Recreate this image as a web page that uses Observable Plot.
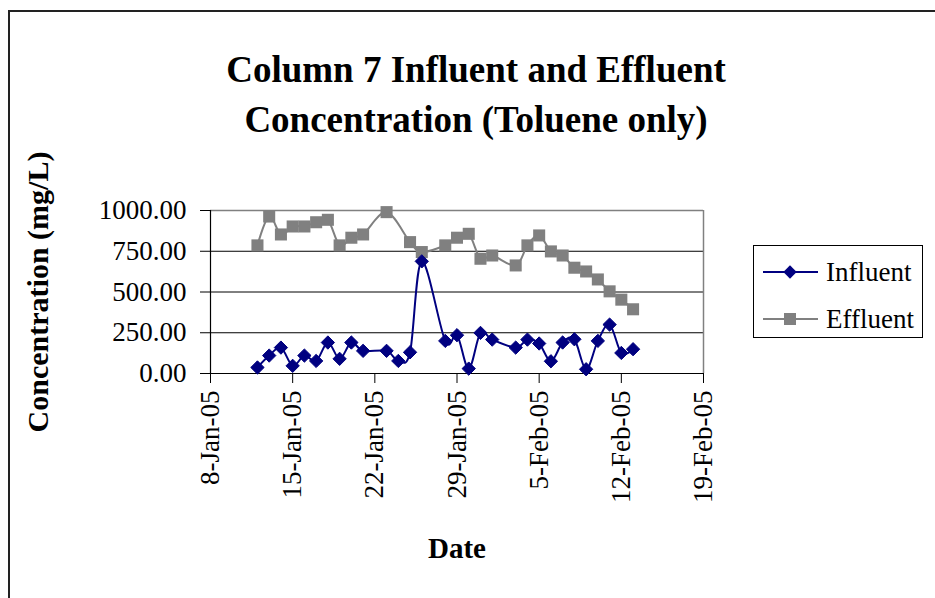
<!DOCTYPE html>
<html>
<head>
<meta charset="utf-8">
<script src="https://cdn.jsdelivr.net/npm/d3@7"></script>
<script src="https://cdn.jsdelivr.net/npm/@observablehq/plot@0.6"></script>
<style>
  html, body { margin: 0; padding: 0; background: #fff; }
  body { font-family: "Liberation Serif", "Times New Roman", serif; color: #000; }
  #wrap { position: relative; width: 935px; height: 598px; overflow: hidden; }
  #frame { position: absolute; left: 8px; top: 10px; width: 1000px; height: 700px; border: 2px solid #222; box-sizing: border-box; }
  #title { position: absolute; left: 0; top: 0; width: 952px; text-align: center; font-weight: bold; font-size: 37px; line-height: 50px; padding-top: 45px; }
  #chart { position: absolute; left: 0; top: 150px; }
  #legend { position: absolute; left: 753px; top: 245px; }
</style>
</head>
<body>
<div id="wrap">
  <div id="frame"></div>
  <div id="title">Column 7 Influent and Effluent<br>Concentration (Toluene only)</div>
  <div id="chart"></div>
  <div id="legend"></div>
</div>
<script>
// ---- data ----
const influentDates = ["2005-01-12","2005-01-13","2005-01-14","2005-01-15","2005-01-16","2005-01-17","2005-01-18","2005-01-19","2005-01-20","2005-01-21",
  "2005-01-23","2005-01-24","2005-01-25","2005-01-26","2005-01-28","2005-01-29","2005-01-30","2005-01-31","2005-02-01",
  "2005-02-03","2005-02-04","2005-02-05","2005-02-06","2005-02-07","2005-02-08","2005-02-09","2005-02-10","2005-02-11","2005-02-12","2005-02-13"];
const influentValues = [37,110,159,47,110,77,190,90,190,139,
  139,77,130,688,200,235,30,249,208,
  159,208,184,75,190,210,26,200,300,126,149];
const effluentDates = ["2005-01-12","2005-01-13","2005-01-14","2005-01-15","2005-01-16","2005-01-17","2005-01-18","2005-01-19","2005-01-20","2005-01-21",
  "2005-01-23","2005-01-25","2005-01-26","2005-01-28","2005-01-29","2005-01-30","2005-01-31","2005-02-01",
  "2005-02-03","2005-02-04","2005-02-05","2005-02-06","2005-02-07","2005-02-08","2005-02-09","2005-02-10","2005-02-11","2005-02-12","2005-02-13"];
const effluentValues = [786,963,853,902,902,928,943,786,833,853,
  990,806,745,786,833,857,704,724,
  663,786,847,749,724,649,626,577,504,453,394];
const xTickDates = ["2005-01-08","2005-01-15","2005-01-22","2005-01-29","2005-02-05","2005-02-12","2005-02-19"];
const yTicks = [0, 250, 500, 750, 1000];
const seriesNames = ["Influent", "Effluent"];

// ---- build ----
const parse = d3.utcParse("%Y-%m-%d");
const influent = influentDates.map((d, i) => ({date: parse(d), value: influentValues[i]}));
const effluent = effluentDates.map((d, i) => ({date: parse(d), value: effluentValues[i]}));
const xTicks = xTickDates.map(parse);
const xMin = xTicks[0], xMax = xTicks[xTicks.length - 1];

const INF = "#000080", EFF = "#808080";
const FONT = "'Liberation Serif', 'Times New Roman', serif";

const chart = Plot.plot({
  width: 935,
  height: 448,
  marginLeft: 210,
  marginRight: 232,
  marginTop: 60,
  marginBottom: 225,
  style: {fontFamily: FONT, fontSize: "27px", color: "#000", background: "transparent", overflow: "visible"},
  x: {type: "utc", domain: [xMin, xMax]},
  y: {domain: [0, 1000]},
  marks: [
    Plot.gridY(yTicks.filter(d => d > 0 && d < 1000), {stroke: "#000", strokeOpacity: 1, strokeWidth: 1}),
    Plot.ruleY([1000], {stroke: "#808080", strokeWidth: 1.5}),
    Plot.ruleX([xMax], {stroke: "#808080", strokeWidth: 1.5}),
    Plot.axisY({ticks: yTicks, tickFormat: d3.format(".2f"), tickSize: 10, tickPadding: 14, label: null, fontSize: 27, stroke: "#000"}),
    Plot.axisX({ticks: xTicks, tickFormat: d3.utcFormat("%-d-%b-%y"), tickSize: 10, tickPadding: 7, tickRotate: -90, label: null, fontSize: 27, stroke: "#000"}),
    Plot.ruleY([0], {stroke: "#000", strokeWidth: 1.2}),
    Plot.ruleX([xMin], {stroke: "#000", strokeWidth: 1.2}),
    Plot.line(effluent, {x: "date", y: "value", stroke: EFF, strokeWidth: 2, curve: "cardinal", tension: 0}),
    Plot.dot(effluent, {x: "date", y: "value", symbol: "square", r: 6.8, fill: EFF, stroke: "none"}),
    Plot.line(influent, {x: "date", y: "value", stroke: INF, strokeWidth: 2, curve: "cardinal", tension: 0}),
    Plot.dot(influent, {x: "date", y: "value", symbol: "diamond2", r: 6, fill: INF, stroke: INF, strokeWidth: 1}),
    Plot.text(["Concentration (mg/L)"], {frameAnchor: "left", dx: -172, rotate: -90, textAnchor: "middle", lineAnchor: "middle", fontWeight: "bold", fontSize: 30, fill: "#000"}),
    Plot.text(["Date"], {frameAnchor: "bottom", dy: 175, textAnchor: "middle", lineAnchor: "middle", fontWeight: "bold", fontSize: 29, fill: "#000"})
  ]
});
document.getElementById("chart").append(chart);

// legend
const lg = d3.select("#legend").append("svg").attr("width", 171).attr("height", 94)
  .style("font-family", FONT).style("overflow", "visible");
lg.append("rect").attr("x", 0.5).attr("y", 0.5).attr("width", 169).attr("height", 92)
  .attr("fill", "#fff").attr("stroke", "#000").attr("stroke-width", 1);
const rows = [{name: seriesNames[0], color: INF, y: 27, sym: d3.symbolDiamond2, size: Math.PI * 36},
              {name: seriesNames[1], color: EFF, y: 74, sym: d3.symbolSquare, size: Math.PI * 6.8 * 6.8}];
rows.forEach(r => {
  lg.append("line").attr("x1", 10).attr("x2", 65).attr("y1", r.y).attr("y2", r.y).attr("stroke", r.color).attr("stroke-width", 2);
  lg.append("path").attr("d", d3.symbol(r.sym, r.size)()).attr("transform", `translate(37,${r.y})`).attr("fill", r.color);
  lg.append("text").attr("x", 73).attr("y", r.y).attr("dy", "0.35em").attr("font-size", 27).text(r.name);
});
</script>
</body>
</html>
